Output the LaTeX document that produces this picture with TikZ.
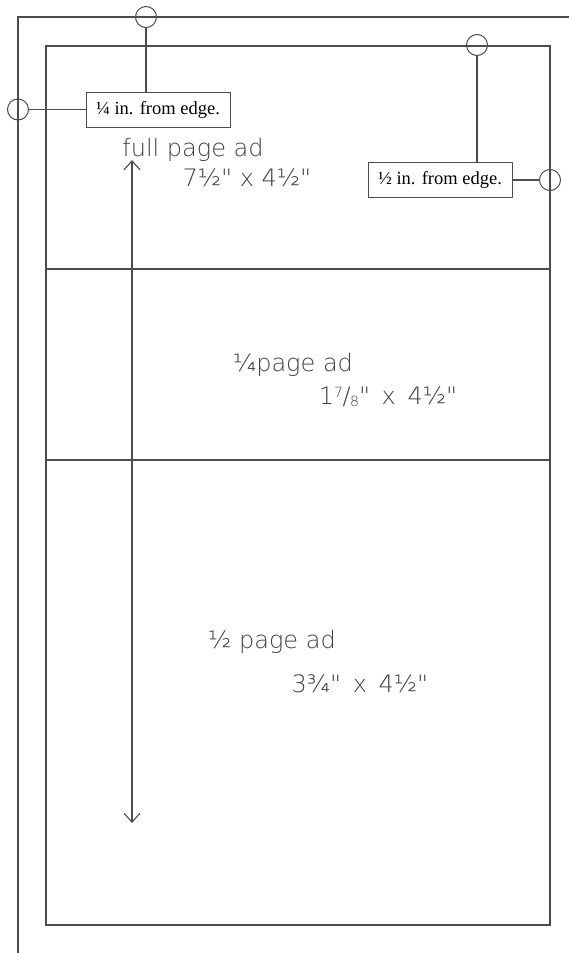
\documentclass[tikz,border=0pt]{standalone}
\usepackage{fontspec}
\setmainfont{Liberation Serif}
\newfontfamily\handfont{DejaVu Sans ExtraLight}
\usepackage{tikz}
\usetikzlibrary{arrows.meta, positioning, calc}

% hand-set fraction for glyphs the light face lacks
\newcommand{\handfrac}[2]{\raisebox{0.55ex}{\fontsize{14}{14}\selectfont #1}\kern-0.5pt/\kern-0.5pt\raisebox{-0.1ex}{\fontsize{14}{14}\selectfont #2}}

\tikzset{
    rule/.style={draw=black!70, line width=1.1pt},
    pin/.style={circle, draw=black!70, line width=1pt, minimum size=21pt, inner sep=0pt},
    tagbox/.style={rectangle, draw=black!70, line width=1pt, fill=white, minimum width=144pt, minimum height=35pt, inner sep=0pt, font=\fontsize{18.5}{22}\selectfont},
    hand/.style={text=black!75, font=\handfont\fontsize{24}{28}\selectfont, inner sep=0pt}
}

\begin{document}
\begin{tikzpicture}[x=1pt, y=-1pt]
    \useasboundingbox (0,0) rectangle (569,953);
    % page edge and trim frame
    \draw[rule] (18,953) -- (18,17) -- (569,17);
    \draw[rule] (46,46) rectangle (550,925);
    \draw[rule] (46,269) -- (550,269);
    \draw[rule] (46,460) -- (550,460);
    % height of the full page
    \coordinate (top) at (132,160);
    \coordinate (bot) at (132,823);
    \draw[black!70, line width=1.1pt, {Straight Barb[length=9pt, width=16pt]}-{Straight Barb[length=9pt, width=16pt]}] (top) -- (bot);
    % callouts
    \node[tagbox] (quarter) at (158,109.5) {¼ in. from edge.};
    \node[pin] (qtop) at (146,17) {};
    \node[pin] (qleft) at (18,109.5) {};
    \draw[rule] (qtop) -- (qtop |- quarter.north);
    \draw[rule] (qleft) -- (quarter.west);
    \node[tagbox] (half) at (440,180) {½ in. from edge.};
    \node[pin] (htop) at (477,45) {};
    \node[pin] (hright) at (550,180) {};
    \draw[rule] (htop) -- (htop |- half.north);
    \draw[rule] (half.east) -- (hright);
    % handwritten sizes
    \node[hand] (fulla) at (193,150) {full page ad};
    \node[hand] (fullb) at (247,178) {7½" x 4½"};
    \node[hand] (quara) at (293,365) {¼page ad};
    \node[hand] (quarb) at (388,397) {1\handfrac{7}{8}" \,x\, 4½"};
    \node[hand] (halfa) at (272,642) {½ page ad};
    \node[hand] (halfb) at (360,684) {3¾" \,x\, 4½"};
\end{tikzpicture}
\end{document}
